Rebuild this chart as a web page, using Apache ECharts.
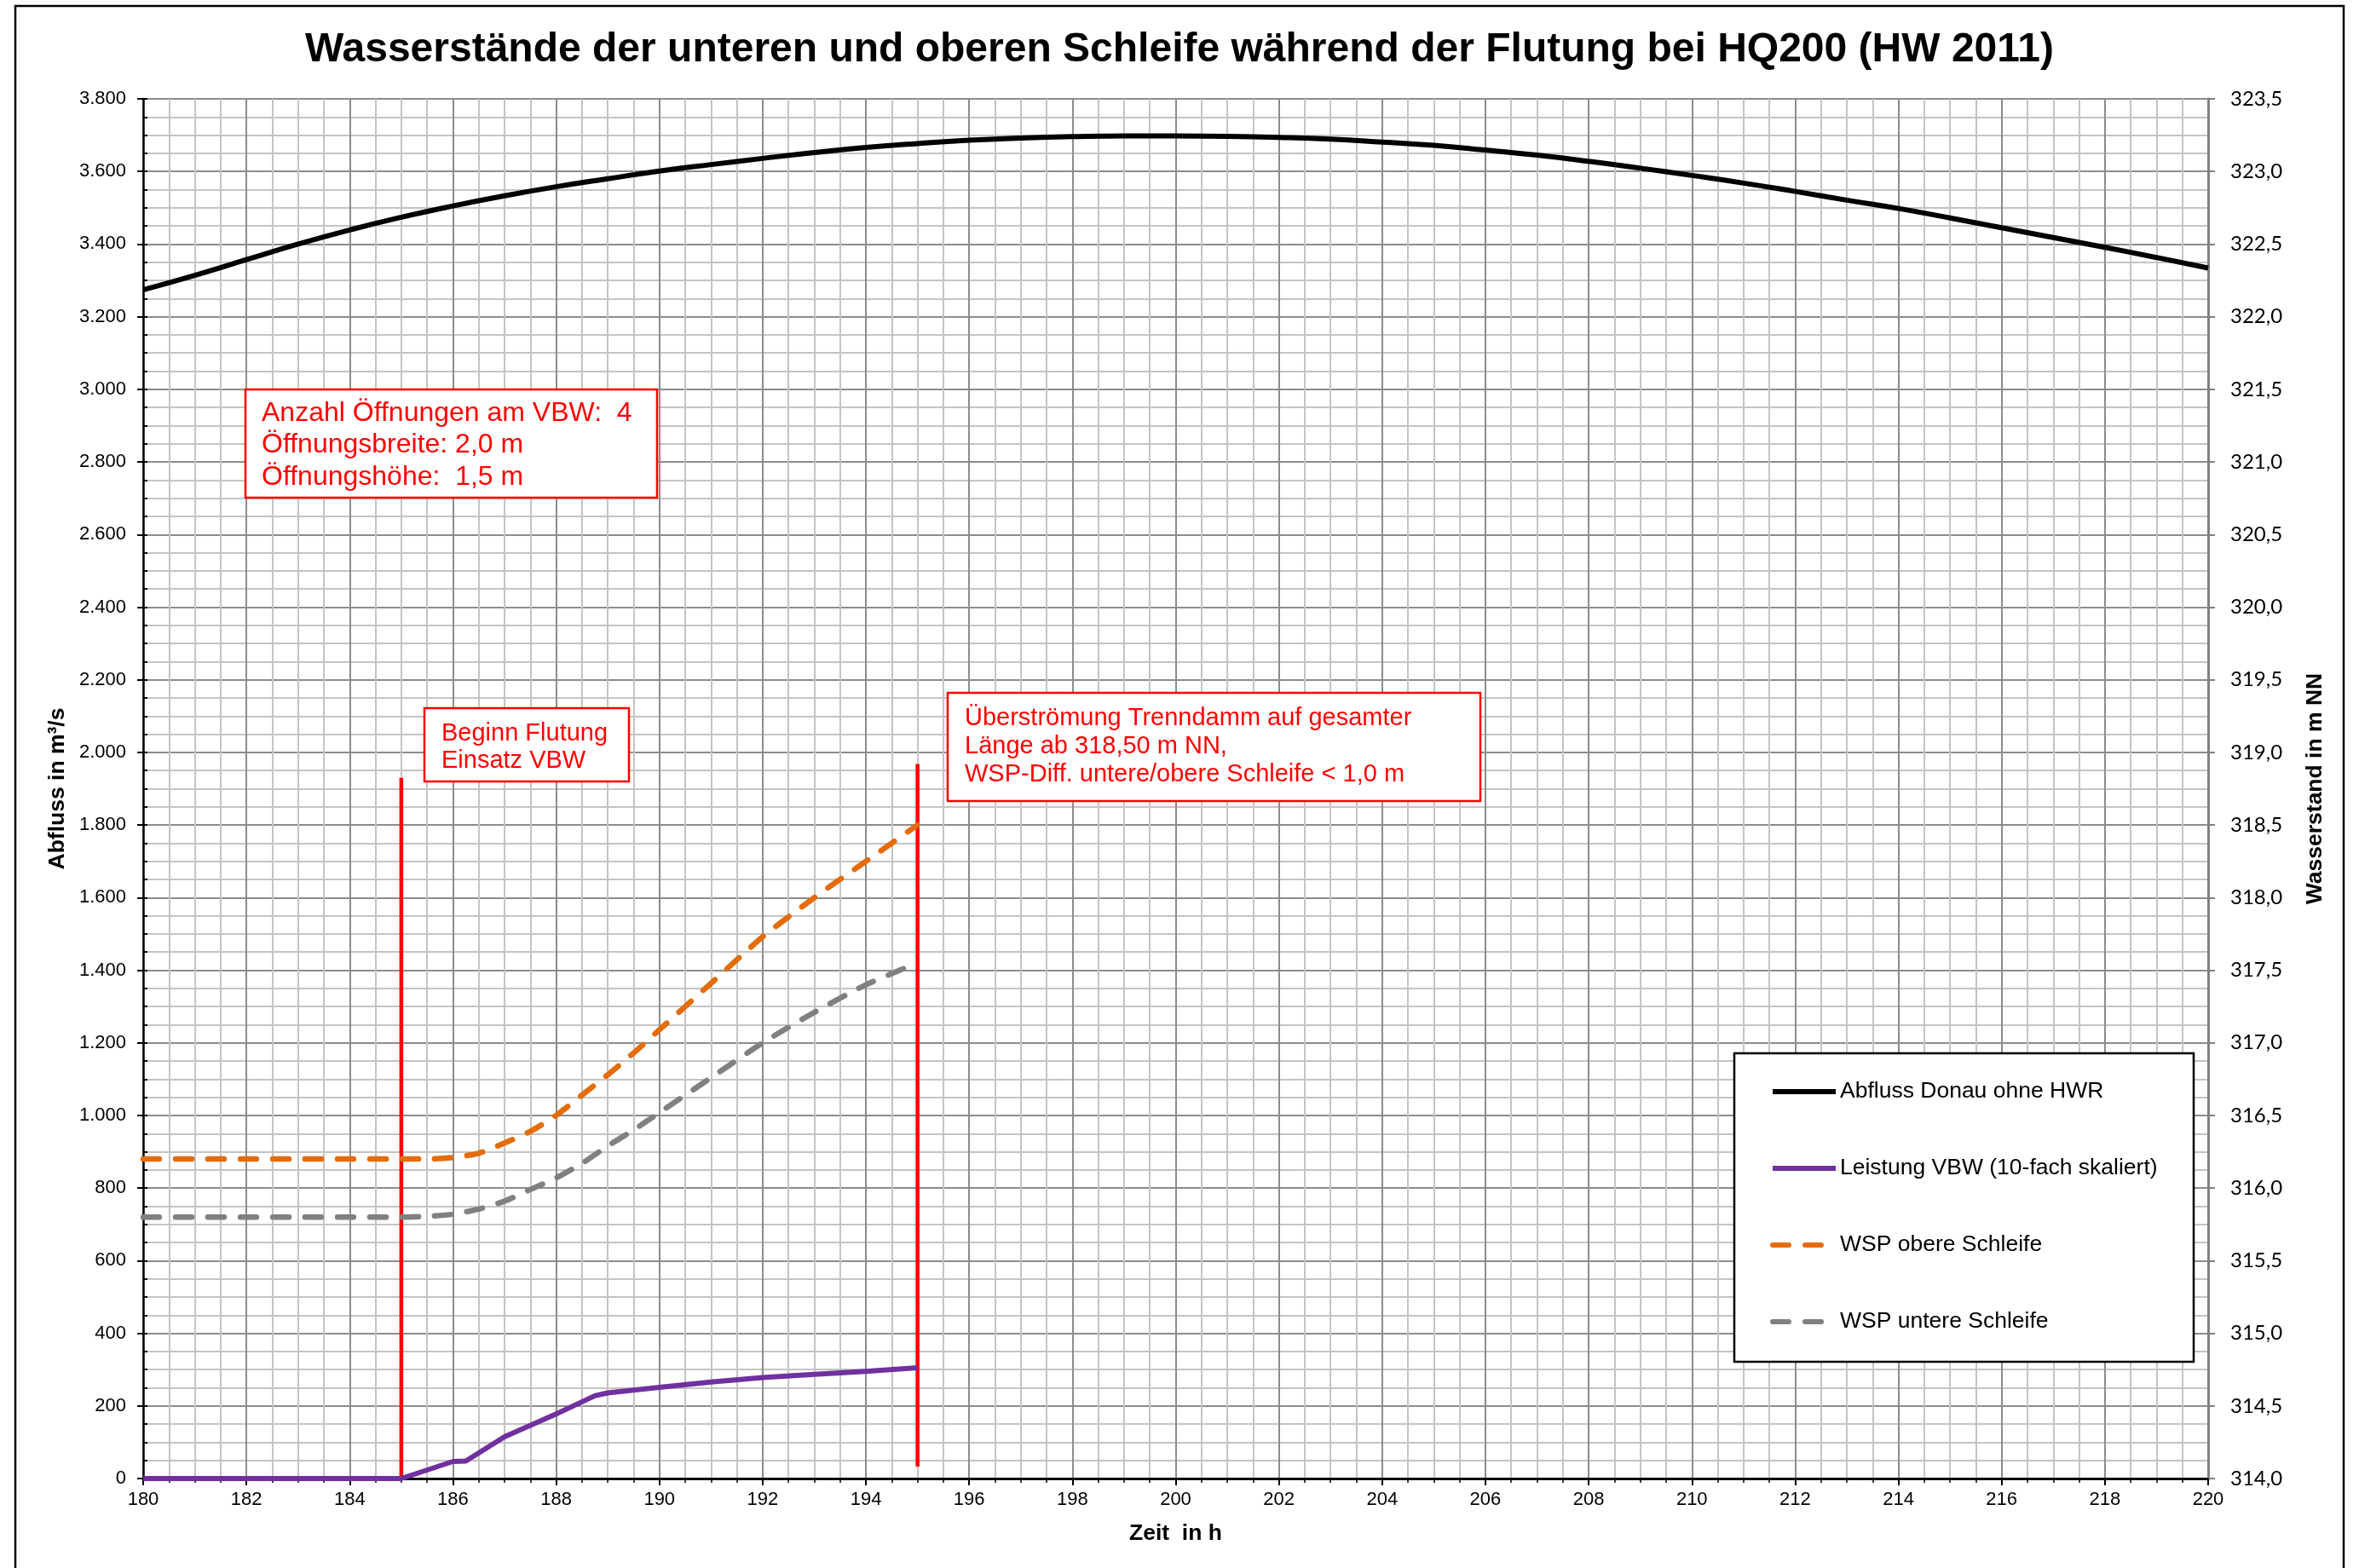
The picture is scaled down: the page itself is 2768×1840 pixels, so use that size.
<!DOCTYPE html>
<html><head><meta charset="utf-8">
<script src="https://cdn.jsdelivr.net/npm/echarts@6/dist/echarts.min.js"></script>
<style>html,body{margin:0;padding:0;background:#fff}#c{width:2768px;height:1840px}</style>
</head><body><div id="c"></div>
<script>
// ---------- data ----------
const hours = [180,181,182,183,184,185,186,187,188,189,190,191,192,193,194,195,196,197,198,199,200,201,202,203,204,205,206,207,208,209,210,211,212,213,214,215,216,217,218,219,220];
const abflussDonau = [3274,3314,3357,3400,3439,3474,3505,3533,3558,3580,3601,3619,3636,3652,3666,3677,3686,3692,3696,3698,3698,3697,3694,3689,3681,3672,3659,3645,3628,3609,3589,3568,3545,3521,3498,3472,3445,3418,3391,3363,3334];

const vbwTime  = [180,181,182,183,184,185,186,186.25,187,188,188.75,189,190,191,192,193,194,195];
const vbwLeistung = [0,0,0,0,0,0,47,48,115,178,228,236,251,266,278,287,295,305];

const wspTime = [180,181,182,183,184,185,185.5,186,186.5,187,187.5,188,188.5,189,189.5,190,191,192,193,194,195];
const wspOben  = [316.20,316.20,316.20,316.20,316.20,316.20,316.20,316.21,316.24,316.31,316.39,316.50,316.64,316.78,316.93,317.09,317.41,317.73,318.00,318.25,318.50];
const wspUnten = [315.80,315.80,315.80,315.80,315.80,315.80,315.805,315.82,315.855,315.91,315.99,316.07,316.17,316.29,316.40,316.52,316.76,317.00,317.21,317.40,317.55];

const markerBeginn = [[185,0],[185,1930]];
const markerUeber  = [[195,33],[195,1968]];

const seriesNames = ['Abfluss Donau ohne HWR','Leistung VBW (10-fach skaliert)','WSP obere Schleife','WSP untere Schleife'];
const titleText = 'Wasserstände der unteren und oberen Schleife während der Flutung bei HQ200 (HW 2011)';
const noteOeffnung = 'Anzahl Öffnungen am VBW:  4\nÖffnungsbreite: 2,0 m\nÖffnungshöhe:  1,5 m';
const noteBeginn = 'Beginn Flutung\nEinsatz VBW';
const noteUeber = 'Überströmung Trenndamm auf gesamter\nLänge ab 318,50 m NN,\nWSP-Diff. untere/obere Schleife < 1,0 m';

// ---------- chart ----------
const zip = (a,b) => a.map((v,i)=>[v,b[i]]);
const FONT = '"Liberation Sans", Arial, sans-serif';
const chart = echarts.init(document.getElementById('c'), null, {renderer:'canvas'});

function noteBox(x,y,w,h,tx,ty,text,fs,lh){
  return {type:'group', z:3, children:[
    {type:'rect', z:3, shape:{x:x,y:y,width:w,height:h}, style:{fill:'#fff',stroke:'#ff0000',lineWidth:2.5}},
    {type:'text', z:4, style:{x:tx,y:ty,text:text,fill:'#ff0000',font:fs+'px '+FONT,lineHeight:lh,verticalAlign:'top',align:'left'}}
  ]};
}

const option = {
  backgroundColor:'#fff',
  animation:false,
  title:{text:titleText,left:'center',top:30,textStyle:{fontFamily:FONT,fontSize:48,fontWeight:'bold',color:'#000'}},
  grid:{left:168,right:177,top:116,bottom:105,containLabel:false},
  legend:{
    data:seriesNames, orient:'vertical', left:2077, top:1266, padding:0,
    itemWidth:74, itemHeight:30, itemGap:60, z:5,
    textStyle:{fontFamily:FONT,fontSize:26.5,color:'#000',lineHeight:30},
    itemStyle:{opacity:0}, lineStyle:{width:6}
  },
  xAxis:{
    type:'value', min:180, max:220, interval:2,
    name:'Zeit  in h', nameLocation:'middle', nameGap:51,
    nameTextStyle:{fontFamily:FONT,fontSize:26.5,fontWeight:'bold',color:'#000'},
    axisLine:{show:true,onZero:false,lineStyle:{color:'#000',width:3}},
    axisTick:{show:true,length:8,lineStyle:{color:'#000',width:2}},
    minorTick:{show:true,splitNumber:4,length:5,lineStyle:{color:'#000',width:1.5}},
    axisLabel:{fontFamily:FONT,fontSize:22,color:'#000',margin:14},
    splitLine:{show:true,lineStyle:{color:'#8c8c8c',width:2}},
    minorSplitLine:{show:true,lineStyle:{color:'#c4c4c4',width:2}}
  },
  yAxis:[
    {
      type:'value', min:0, max:3800, interval:200, position:'left',
      name:'Abfluss in m³/s', nameLocation:'middle', nameRotate:90, nameGap:87,
      nameTextStyle:{fontFamily:FONT,fontSize:26.5,fontWeight:'bold',color:'#000'},
      axisLine:{show:true,lineStyle:{color:'#000',width:2.5}},
      axisTick:{show:true,length:7,lineStyle:{color:'#000',width:2}},
      axisLabel:{fontFamily:FONT,fontSize:22,color:'#000',margin:20,
        formatter:v=> v>=1000 ? Math.floor(v/1000)+'.'+String(v%1000).padStart(3,'0') : String(v)},
      splitLine:{show:true,lineStyle:{color:'#8c8c8c',width:2}},
      minorTick:{show:false,splitNumber:4},
      minorSplitLine:{show:true,lineStyle:{color:'#c4c4c4',width:2}}
    },
    {
      type:'value', min:314, max:323.5, interval:0.5, position:'right',
      name:'Wasserstand in m NN', nameLocation:'middle', nameRotate:90, nameGap:112,
      nameTextStyle:{fontFamily:FONT,fontSize:26.5,fontWeight:'bold',color:'#000'},
      axisLine:{show:true,lineStyle:{color:'#808080',width:3}},
      axisTick:{show:true,length:8,lineStyle:{color:'#808080',width:2}},
      axisLabel:{fontFamily:'Lato, "Open Sans", sans-serif',fontSize:24,color:'#000',margin:26,
        formatter:v=>v.toFixed(1).replace('.',',')},
      splitLine:{show:false}
    },
    {
      type:'value', min:0, max:3800, interval:50, position:'left',
      axisLine:{show:false},
      axisTick:{show:true,inside:true,length:5,lineStyle:{color:'#000',width:2}},
      axisLabel:{show:false}, splitLine:{show:false}
    }
  ],
  series:[
    {name:seriesNames[0],type:'line',yAxisIndex:0,data:zip(hours,abflussDonau),symbol:'none',smooth:true,
     lineStyle:{color:'#000',width:6},itemStyle:{color:'#000'},z:3},
    {name:seriesNames[1],type:'line',yAxisIndex:0,data:zip(vbwTime,vbwLeistung),symbol:'none',
     lineStyle:{color:'#7030a0',width:6,join:'round'},itemStyle:{color:'#7030a0'},z:3},
    {name:seriesNames[2],type:'line',yAxisIndex:1,data:zip(wspTime,wspOben),symbol:'none',smooth:0.2,
     lineStyle:{color:'#e46c0a',width:6.5,type:[19,19],cap:'round'},itemStyle:{color:'#e46c0a'},z:3},
    {name:seriesNames[3],type:'line',yAxisIndex:1,data:zip(wspTime,wspUnten),symbol:'none',smooth:0.2,
     lineStyle:{color:'#808080',width:6.5,type:[19,19],cap:'round'},itemStyle:{color:'#808080'},z:3},
    {name:'Beginn Flutung',type:'line',yAxisIndex:0,data:markerBeginn,symbol:'none',
     lineStyle:{color:'#ff0000',width:4.5},z:2,silent:true},
    {name:'Überströmung',type:'line',yAxisIndex:0,data:markerUeber,symbol:'none',
     lineStyle:{color:'#ff0000',width:4.5},z:2,silent:true}
  ],
  graphic:[
    {type:'rect', z:1, silent:true, shape:{x:18,y:7,width:2732,height:1900}, style:{fill:'none',stroke:'#000',lineWidth:2.5}},
    {type:'rect', z:3, shape:{x:2035,y:1236,width:539,height:362}, style:{fill:'#fff',stroke:'#000',lineWidth:2.5}},
    noteBox(288,457,483,127,307,466,noteOeffnung,32,37.5),
    noteBox(498,831,240,86,518,845,noteBeginn,29,32),
    noteBox(1112,813,625,127,1132,826,noteUeber,29,33)
  ]
};
chart.setOption(option);
</script>
</body></html>
